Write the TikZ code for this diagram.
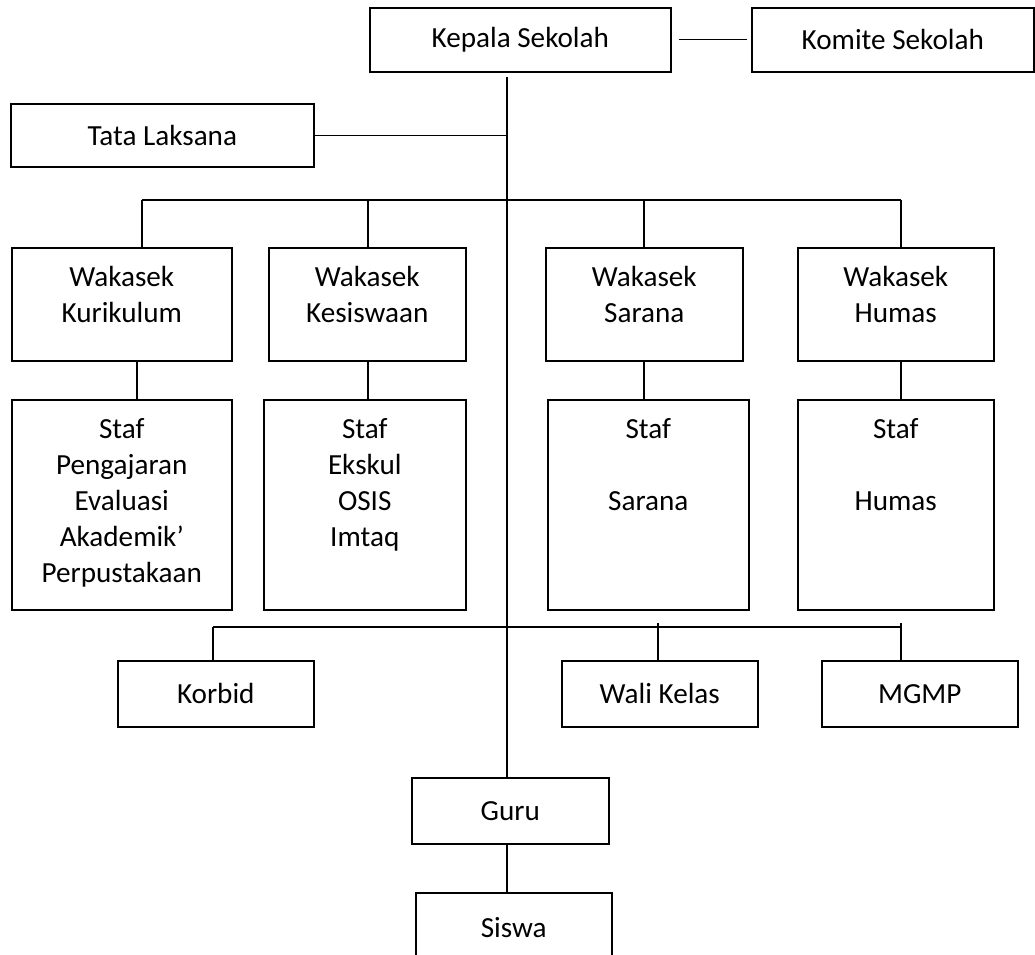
\documentclass[tikz,border=0pt]{standalone}
\usepackage{fontspec}
\setmainfont{Carlito}
\newlength\pxu
\setlength\pxu{0.5691pt}

\begin{document}
\begin{tikzpicture}[x=0.02cm,y=-0.02cm,line width=0.8pt]
  \tikzstyle{unit}=[draw,line width=0.9pt,inner sep=0pt,anchor=north west,align=center,font=\fontsize{16.6}{20.5}\selectfont]
  \tikzstyle{flat}=[unit,minimum height=66\pxu]
  \tikzstyle{wakbox}=[unit,text height=39\pxu,text depth=74\pxu]
  \tikzstyle{stafbox}=[unit,text height=39\pxu,text depth=171\pxu]

  \path[use as bounding box,fill=white] (0,0) rectangle (1035,954);

  % top level
  \node[unit,minimum width=301\pxu,minimum height=64\pxu] (kepala) at (369,7)  {Kepala Sekolah};
  \node[unit,minimum width=282\pxu,minimum height=64\pxu] (komite) at (751,7)  {Komite Sekolah};
  \node[unit,minimum width=303\pxu,minimum height=63\pxu] (tata)   at (10,103) {Tata Laksana};

  % wakasek
  \node[wakbox,text width=220\pxu] (wkur) at (11,247)  {Wakasek\\Kurikulum};
  \node[wakbox,text width=197\pxu] (wkes) at (268,247) {Wakasek\\Kesiswaan};
  \node[wakbox,text width=197\pxu] (wsar) at (545,247) {Wakasek\\Sarana};
  \node[wakbox,text width=196\pxu] (whum) at (797,247) {Wakasek\\Humas};

  % staf
  \node[stafbox,text width=220\pxu] (skur) at (11,399)  {Staf\\Pengajaran\\Evaluasi\\Akademik’\\Perpustakaan};
  \node[stafbox,text width=202\pxu] (skes) at (263,399) {Staf\\Ekskul\\OSIS\\Imtaq};
  \node[stafbox,text width=201\pxu] (ssar) at (547,399) {Staf\\[20.5pt]Sarana};
  \node[stafbox,text width=196\pxu] (shum) at (797,399) {Staf\\[20.5pt]Humas};

  % lower level
  \node[flat,minimum width=196\pxu] (korbid) at (117,660) {Korbid};
  \node[flat,minimum width=196\pxu] (wali)   at (561,660) {Wali Kelas};
  \node[flat,minimum width=196\pxu] (mgmp)   at (821,660) {MGMP};
  \node[flat,minimum width=197\pxu] (guru)   at (411,777) {Guru};
  \node[unit,minimum width=196\pxu,minimum height=70\pxu] (siswa) at (415,892) {Siswa};

  % connectors
  \coordinate (top) at (507,77);
  \draw (top) -- (top |- guru.north);
  \draw[shorten <=7\pxu,shorten >=4\pxu] (kepala.east) -- (komite.west);
  \draw (tata.east) -- (tata.east -| top);

  \coordinate (b1) at (142,200);
  \coordinate (b2) at (368,200);
  \coordinate (b3) at (644,200);
  \coordinate (b4) at (901,200);
  \draw[line width=1pt] (b1) -- (b4);
  \foreach \c/\n in {b1/wkur,b2/wkes,b3/wsar,b4/whum}
    \draw (\c) -- (\c |- \n.north);

  \coordinate (s1) at (137,380);
  \coordinate (s2) at (368,380);
  \coordinate (s3) at (644,380);
  \coordinate (s4) at (901,380);
  \foreach \c/\w/\s in {s1/wkur/skur,s2/wkes/skes,s3/wsar/ssar,s4/whum/shum}
    \draw (\c |- \w.south) -- (\c |- \s.north);

  \coordinate (l1) at (213,627);
  \coordinate (l2) at (658,623);
  \coordinate (l3) at (901,623);
  \draw[line width=1pt] (l1) -- (l1 -| l3);
  \draw (l1) -- (l1 |- korbid.north);
  \draw (l2) -- (l2 |- wali.north);
  \draw (l3) -- (l3 |- mgmp.north);

  \draw (guru.south -| top) -- (siswa.north -| top);
\end{tikzpicture}
\end{document}
